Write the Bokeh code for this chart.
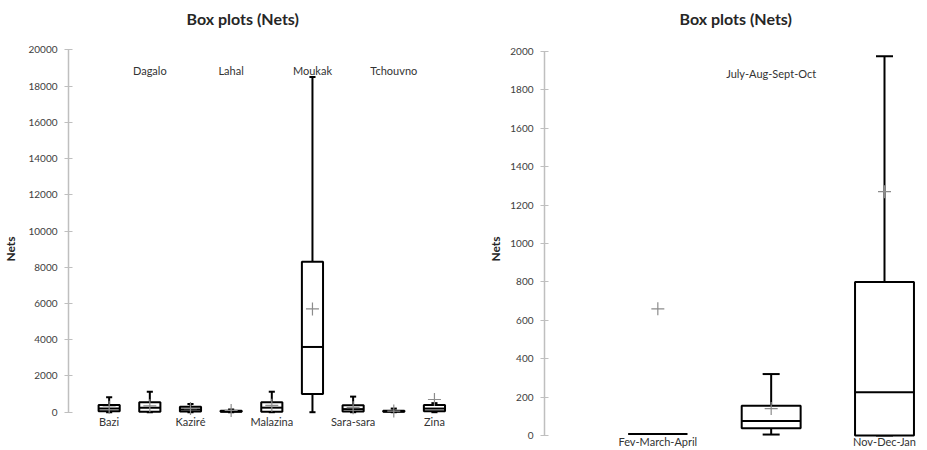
from bokeh.plotting import figure
from bokeh.models import Range1d, FixedTicker, ColumnDataSource, LabelSet, Title
from bokeh.layouts import row
from bokeh.core.properties import value
from bokeh.embed import file_html
from bokeh.resources import INLINE

# ---- data: left chart (by village) ----
left_cats = ["Bazi", "Dagalo", "Kaziré", "Lahal", "Malazina", "Moukak", "Sara-sara", "Tchouvno", "Zina"]
left_min = [0, 0, 0, 0, 0, 0, 0, 0, 0]
left_q1 = [50, 30, 40, 20, 30, 1000, 40, 20, 50]
left_median = [200, 250, 150, 40, 250, 3600, 170, 40, 200]
left_q3 = [400, 550, 300, 80, 550, 8300, 380, 80, 400]
left_max = [820, 1130, 450, 150, 1130, 18500, 860, 200, 500]
left_mean = [280, 350, 200, 100, 380, 5700, 250, 60, 700]
left_yticks = list(range(0, 20001, 2000))

# ---- data: right chart (by season) ----
right_cats = ["Fev-March-April", "July-Aug-Sept-Oct", "Nov-Dec-Jan"]
right_min = [8, 5, 0]
right_q1 = [8, 38, 0]
right_median = [8, 75, 225]
right_q3 = [8, 155, 800]
right_max = [8, 320, 1975]
right_mean = [660, 140, 1270]
right_yticks = list(range(0, 2001, 200))

FONT = "Lato"
TITLE = "Box plots (Nets)"
YLABEL = "Nets"
H = 448
TOP = 49


def make_chart(cats, mins, q1s, meds, q3s, maxs, means, yticks, width,
               border_left, axis_top_px, axis_zero_px, x_end, title_offset,
               bottom_off, top_off, label_standoff):
    n = len(cats)
    xs = [i + 1 for i in range(n)]
    bw = 0.52
    cw = 0.15
    src = ColumnDataSource(dict(
        x=xs,
        left=[x - bw / 2 for x in xs], right=[x + bw / 2 for x in xs],
        cl=[x - cw / 2 for x in xs], cr=[x + cw / 2 for x in xs],
        mn=mins, q1=q1s, med=meds, q3=q3s, mx=maxs, mean=means,
    ))
    ymax = yticks[-1]
    per_px = ymax / (axis_zero_px - axis_top_px)
    y_start = -(H - axis_zero_px) * per_px
    y_end = ymax + (axis_top_px - TOP) * per_px
    p = figure(width=width, height=H, output_backend="svg", toolbar_location=None,
               x_range=Range1d(0, x_end), y_range=Range1d(y_start, y_end),
               min_border_left=border_left, min_border_right=0,
               min_border_top=TOP, min_border_bottom=0, title_location=None)
    # spacer between frame and title, then the title itself
    p.add_layout(Title(text=" ", text_font_size="10px", standoff=7), "above")
    p.add_layout(Title(text=TITLE, align="left", vertical_align="top", offset=title_offset,
                       standoff=0, text_font=FONT, text_font_size="16px",
                       text_font_style="bold", text_color="#262626"), "above")
    p.outline_line_color = None
    p.xgrid.visible = False
    p.ygrid.visible = False
    p.xaxis.visible = False
    ax = p.yaxis[0]
    ax.ticker = FixedTicker(ticks=yticks)
    ax.bounds = (yticks[0], yticks[-1])
    ax.axis_label = YLABEL
    ax.axis_label_text_font = FONT
    ax.axis_label_text_font_style = "bold"
    ax.axis_label_text_font_size = "12px"
    ax.axis_label_text_color = "#262626"
    ax.axis_label_standoff = label_standoff
    ax.major_label_text_font = FONT
    ax.major_label_text_font_size = "10px"
    ax.major_label_text_color = "#404040"
    ax.major_label_standoff = 7
    ax.axis_line_color = "#bfbfbf"
    ax.axis_line_width = 1.5
    ax.major_tick_line_color = "#bfbfbf"
    ax.major_tick_in = 4
    ax.major_tick_out = 4
    ax.minor_tick_line_color = None

    # whiskers
    p.segment(x0="x", y0="q3", x1="x", y1="mx", source=src, line_color="black", line_width=2)
    p.segment(x0="x", y0="q1", x1="x", y1="mn", source=src, line_color="black", line_width=2)
    p.segment(x0="cl", y0="mx", x1="cr", y1="mx", source=src, line_color="black", line_width=2)
    p.segment(x0="cl", y0="mn", x1="cr", y1="mn", source=src, line_color="black", line_width=2)
    # boxes
    p.quad(left="left", right="right", bottom="q1", top="q3", source=src,
           fill_color="white", line_color="black", line_width=2)
    p.segment(x0="left", y0="med", x1="right", y1="med", source=src, line_color="black", line_width=2)
    # means
    p.scatter(x="x", y="mean", source=src, marker="cross", size=13,
              line_color="#8c8c8c", line_width=1.2)

    # category labels: alternate below / top
    bi = [i for i in range(n) if i % 2 == 0]
    ti = [i for i in range(n) if i % 2 == 1]
    bot = ColumnDataSource(dict(x=[xs[i] for i in bi], y=[yticks[0]] * len(bi), t=[cats[i] for i in bi]))
    top = ColumnDataSource(dict(x=[xs[i] for i in ti], y=[yticks[-1]] * len(ti), t=[cats[i] for i in ti]))
    for s, off in ((bot, bottom_off), (top, top_off)):
        p.add_layout(LabelSet(x="x", y="y", text="t", source=s, y_offset=off,
                              text_align="center", text_baseline="middle",
                              text_font=value(FONT), text_font_size=value("11px"),
                              text_color="#333333"))
    return p


p1 = make_chart(left_cats, left_min, left_q1, left_median, left_q3, left_max, left_mean,
                left_yticks, 462, 60, 49.3, 411.7, 9.69, 118, -9, -21, 7)
p2 = make_chart(right_cats, right_min, right_q1, right_median, right_q3, right_max, right_mean,
                right_yticks, 456, 82, 51, 435, 3.3, 135, -6, -22, 4)

layout = row(p1, p2)
open("out.html", "w").write(file_html(layout, INLINE))
